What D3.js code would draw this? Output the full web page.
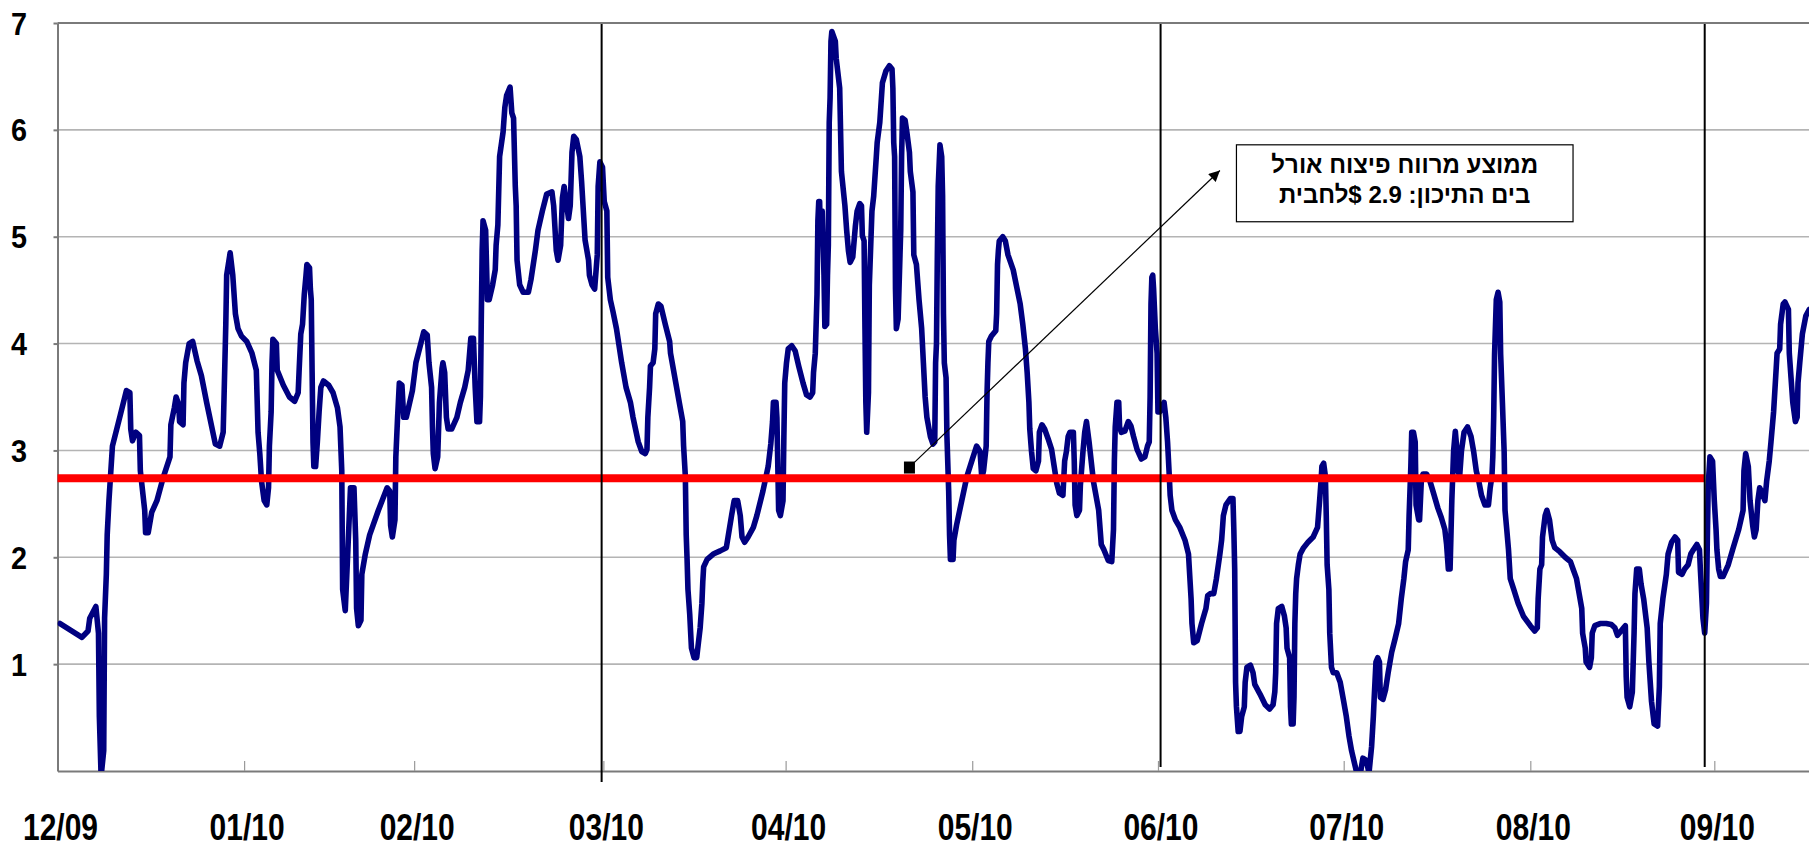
<!DOCTYPE html>
<html lang="he">
<head>
<meta charset="UTF-8">
<title>Crack spread</title>
<script src="https://d3js.org/d3.v7.min.js"></script>
<style>
  body { margin: 0; background: #fff; }
  svg { display: block; font-family: Arial, "Liberation Sans", sans-serif; }
</style>
</head>
<body>
<div id="chart"></div>
<script>
// month labels and where each month starts, in trading days from the first point
const monthLabels = ["12/09", "01/10", "02/10", "03/10", "04/10", "05/10", "06/10", "07/10", "08/10", "09/10"];
const monthPos = [0, 21.4, 40.9, 62.6, 83.5, 104.9, 126.2, 147.5, 168.9, 190.0];
const quarterLines = [62.4, 126.5, 188.9];
const yTicks = [1, 2, 3, 4, 5, 6, 7];

const averageSpread = 2.74;
const averageEnd = 188.9;
const noteLines = ["ממוצע מרווח פיצוח אורל", "בים התיכון: 2.9 $לחבית"];

// crack spread, $/bbl
const days = [
  0.3, 2.8, 3.5, 3.7, 4.4, 4.7, 4.8, 5.0, 5.3, 5.4, 5.6, 5.7, 5.9, 6.3, 7.2, 7.9, 8.3, 8.4, 8.6, 9.0,
  9.4, 9.5, 10.0, 10.1, 10.4, 10.8, 11.4, 12.1, 12.9, 13.0, 13.4, 13.6, 13.9, 14.0, 14.4, 14.5, 14.7, 15.1, 15.5, 16.0,
  16.5, 17.1, 18.1, 18.6, 19.0, 19.1, 19.3, 19.4, 19.8, 20.1, 20.4, 20.7, 21.1, 21.7, 22.3, 22.8, 23.0, 23.2, 23.4, 23.7,
  24.0, 24.2, 24.3, 24.5, 24.6, 24.7, 25.1, 25.2, 25.9, 26.6, 27.2, 27.6, 27.7, 27.9, 28.1, 28.3, 28.5, 28.6, 28.9, 29.0,
  29.1, 29.2, 29.3, 29.4, 29.6, 29.8, 30.0, 30.2, 30.5, 31.1, 31.6, 32.1, 32.4, 32.6, 32.7, 33.0, 33.3, 33.6, 34.0, 34.2,
  34.3, 34.5, 34.8, 34.9, 35.3, 35.8, 36.8, 37.8, 38.1, 38.2, 38.4, 38.7, 38.8, 39.0, 39.2, 39.5, 39.7, 40.0, 40.7, 41.1,
  41.6, 42.0, 42.4, 42.6, 42.9, 43.0, 43.1, 43.3, 43.6, 43.8, 44.1, 44.2, 44.4, 44.6, 44.8, 45.2, 45.8, 46.2, 46.7, 47.1,
  47.4, 47.7, 47.9, 48.1, 48.4, 48.5, 48.6, 48.7, 48.8, 49.1, 49.3, 49.5, 49.9, 50.2, 50.3, 50.5, 50.7, 51.1, 51.3, 51.5,
  51.9, 52.1, 52.3, 52.5, 52.6, 52.7, 53.0, 53.4, 54.0, 54.3, 54.8, 55.1, 55.6, 56.1, 56.7, 56.9, 57.2, 57.4, 57.7, 57.9,
  58.1, 58.4, 58.6, 58.8, 59.0, 59.2, 59.5, 59.9, 60.1, 60.5, 60.9, 61.0, 61.3, 61.6, 61.9, 62.0, 62.2, 62.5, 62.7, 63.0,
  63.1, 63.4, 63.7, 64.1, 64.7, 65.2, 65.7, 66.0, 66.6, 67.0, 67.4, 67.6, 67.7, 67.9, 68.0, 68.3, 68.5, 68.6, 68.9, 69.2,
  69.7, 70.2, 70.3, 70.8, 71.3, 71.7, 71.8, 72.0, 72.1, 72.2, 72.3, 72.5, 72.7, 73.0, 73.3, 73.5, 73.7, 73.9, 74.0, 74.1,
  74.5, 75.2, 76.0, 76.7, 76.9, 77.3, 77.6, 78.0, 78.3, 78.5, 78.8, 79.2, 79.8, 80.2, 80.9, 81.5, 81.8, 82.0, 82.1, 82.4,
  82.5, 82.7, 82.9, 83.2, 83.3, 83.4, 83.6, 83.8, 84.2, 84.6, 85.0, 85.5, 85.9, 86.3, 86.6, 86.7, 86.9, 87.0, 87.1, 87.2,
  87.3, 87.4, 87.5, 87.7, 87.9, 88.0, 88.2, 88.3, 88.4, 88.5, 88.6, 88.7, 88.8, 89.2, 89.3, 89.7, 89.9, 90.3, 90.5, 90.7,
  90.9, 91.2, 91.5, 91.7, 92.0, 92.2, 92.3, 92.5, 92.6, 92.7, 92.8, 93.0, 93.1, 93.3, 93.4, 93.6, 93.9, 94.0, 94.3, 94.6,
  95.0, 95.4, 95.7, 95.8, 95.9, 96.0, 96.1, 96.2, 96.4, 96.7, 96.8, 96.9, 97.2, 97.4, 97.7, 97.8, 98.1, 98.2, 98.5, 98.8,
  99.1, 99.3, 99.5, 99.7, 100.1, 100.4, 100.6, 100.7, 100.8, 100.9, 101.0, 101.2, 101.4, 101.5, 101.6, 101.7, 101.9, 102.0, 102.2, 102.3,
  102.4, 102.7, 102.8, 103.1, 103.7, 104.3, 105.0, 105.4, 105.8, 106.0, 106.2, 106.5, 106.6, 106.7, 106.8, 107.1, 107.6, 107.7, 107.8, 107.9,
  108.0, 108.4, 108.7, 109.0, 109.6, 110.0, 110.4, 110.7, 111.0, 111.2, 111.4, 111.5, 111.7, 111.9, 112.2, 112.5, 112.6, 112.9, 113.2, 113.6,
  114.0, 114.3, 114.6, 114.9, 115.3, 115.5, 115.7, 115.9, 116.1, 116.5, 116.6, 116.7, 116.9, 117.2, 117.3, 117.6, 117.8, 118.0, 118.3, 118.8,
  119.4, 119.7, 120.0, 120.5, 120.9, 121.1, 121.2, 121.3, 121.5, 121.7, 121.8, 122.0, 122.4, 122.8, 123.1, 123.4, 123.8, 124.3, 124.7, 125.0,
  125.2, 125.3, 125.4, 125.5, 125.6, 125.7, 125.9, 126.1, 126.2, 126.4, 126.6, 126.9, 127.1, 127.3, 127.5, 127.6, 127.8, 128.2, 128.7, 129.3,
  129.7, 130.0, 130.1, 130.3, 130.7, 131.2, 131.7, 131.9, 132.2, 132.6, 132.9, 133.3, 133.5, 133.7, 134.0, 134.5, 134.8, 134.9, 135.0, 135.1,
  135.2, 135.4, 135.6, 135.8, 136.1, 136.2, 136.4, 136.8, 137.1, 137.3, 137.9, 138.5, 139.0, 139.4, 139.6, 139.7, 139.8, 140.0, 140.4, 140.7,
  140.9, 141.0, 141.3, 141.4, 141.5, 141.7, 141.8, 141.9, 142.0, 142.1, 142.3, 142.5, 142.9, 143.4, 144.0, 144.5, 144.7, 144.9, 145.0, 145.2,
  145.4, 145.5, 145.6, 145.8, 145.9, 146.1, 146.3, 146.7, 147.1, 147.5, 147.8, 148.1, 148.4, 148.8, 149.1, 149.4, 149.7, 150.1, 150.4, 150.7,
  150.9, 151.0, 151.2, 151.4, 151.6, 151.7, 152.0, 152.3, 152.6, 153.0, 153.4, 153.8, 154.1, 154.4, 154.6, 154.9, 155.0, 155.2, 155.3, 155.5,
  155.7, 155.8, 156.1, 156.2, 156.4, 156.6, 157.0, 157.4, 157.8, 158.3, 158.7, 159.1, 159.3, 159.5, 159.7, 159.9, 160.1, 160.3, 160.5, 160.6,
  160.8, 161.0, 161.3, 161.7, 162.1, 162.4, 162.7, 163.0, 163.3, 163.7, 164.1, 164.3, 164.5, 164.6, 164.7, 164.8, 165.0, 165.2, 165.4, 165.5,
  165.7, 165.9, 166.0, 166.2, 166.4, 166.6, 167.0, 167.5, 168.1, 168.9, 169.4, 169.7, 169.8, 170.0, 170.2, 170.3, 170.6, 170.8, 171.1, 171.4,
  171.7, 172.3, 172.9, 173.5, 173.8, 174.2, 174.5, 174.8, 174.9, 175.2, 175.3, 175.7, 175.9, 176.0, 176.3, 176.9, 177.6, 178.2, 178.6, 178.9,
  179.3, 179.6, 179.8, 179.9, 180.0, 180.3, 180.6, 180.8, 180.9, 181.1, 181.4, 181.6, 181.9, 182.3, 182.5, 182.8, 183.1, 183.5, 183.7, 183.8,
  184.1, 184.5, 184.7, 185.1, 185.5, 185.8, 185.9, 186.3, 186.6, 187.0, 187.3, 187.6, 188.0, 188.3, 188.4, 188.7, 188.9, 189.1, 189.2, 189.3,
  189.5, 189.8, 190.0, 190.2, 190.3, 190.5, 190.7, 191.0, 191.6, 192.1, 192.8, 193.3, 193.4, 193.6, 193.9, 194.1, 194.4, 194.6, 194.8, 195.0,
  195.2, 195.5, 195.8, 196.0, 196.3, 196.5, 196.8, 197.1, 197.2, 197.5, 197.6, 197.9, 198.1, 198.5, 198.6, 198.8, 199.0, 199.3, 199.5, 199.6,
  199.8, 200.1, 200.5, 200.9
];
const spread = [
  1.38, 1.25, 1.31, 1.43, 1.54, 1.29, 0.51, -0.05, 0.19, 1.43, 1.84, 2.21, 2.53, 3.04, 3.33, 3.56, 3.54, 3.20, 3.09, 3.17,
  3.14, 2.81, 2.44, 2.23, 2.23, 2.42, 2.53, 2.74, 2.94, 3.24, 3.40, 3.50, 3.43, 3.27, 3.24, 3.63, 3.82, 4.00, 4.02, 3.84,
  3.70, 3.45, 3.06, 3.04, 3.17, 3.50, 4.18, 4.64, 4.85, 4.64, 4.28, 4.14, 4.07, 4.02, 3.91, 3.75, 3.17, 2.97, 2.71, 2.53,
  2.49, 2.65, 3.04, 3.36, 3.82, 4.04, 4.00, 3.75, 3.61, 3.50, 3.46, 3.54, 3.73, 4.09, 4.18, 4.46, 4.64, 4.74, 4.71, 4.51,
  4.41, 3.73, 3.08, 2.85, 2.85, 3.08, 3.36, 3.59, 3.65, 3.61, 3.54, 3.40, 3.22, 2.81, 1.70, 1.50, 2.07, 2.65, 2.65, 2.16,
  1.52, 1.36, 1.41, 1.84, 2.03, 2.21, 2.44, 2.65, 2.62, 2.30, 2.19, 2.35, 2.94, 3.31, 3.63, 3.61, 3.31, 3.31, 3.56, 3.82,
  3.98, 4.11, 4.08, 3.82, 3.59, 3.22, 2.97, 2.83, 2.94, 3.45, 3.77, 3.82, 3.73, 3.31, 3.20, 3.20, 3.31, 3.45, 3.59, 3.75,
  4.05, 4.05, 3.59, 3.27, 3.27, 3.50, 4.23, 4.87, 5.15, 5.06, 4.41, 4.41, 4.55, 4.69, 4.92, 5.11, 5.75, 5.98, 6.21, 6.32,
  6.40, 6.16, 6.11, 5.47, 5.29, 4.78, 4.55, 4.48, 4.48, 4.60, 4.87, 5.06, 5.24, 5.40, 5.42, 5.29, 4.87, 4.78, 4.92, 5.36,
  5.47, 5.29, 5.17, 5.29, 5.79, 5.94, 5.91, 5.75, 5.52, 4.97, 4.78, 4.64, 4.55, 4.51, 4.83, 5.47, 5.70, 5.65, 5.33, 5.24,
  4.62, 4.41, 4.30, 4.14, 3.82, 3.59, 3.45, 3.31, 3.08, 2.99, 2.97, 3.01, 3.31, 3.59, 3.79, 3.82, 3.95, 4.28, 4.37, 4.35,
  4.18, 4.02, 3.91, 3.68, 3.45, 3.27, 3.04, 2.76, 2.21, 1.98, 1.70, 1.47, 1.15, 1.06, 1.06, 1.20, 1.34, 1.57, 1.77, 1.91,
  1.98, 2.03, 2.06, 2.09, 2.19, 2.39, 2.53, 2.53, 2.39, 2.19, 2.14, 2.19, 2.28, 2.39, 2.62, 2.85, 3.06, 3.27, 3.45, 3.45,
  3.31, 2.44, 2.39, 2.53, 3.13, 3.63, 3.82, 3.95, 3.98, 3.93, 3.79, 3.63, 3.52, 3.50, 3.54, 3.73, 3.91, 4.18, 4.46, 5.15,
  5.33, 5.33, 4.96, 5.24, 4.64, 4.16, 4.18, 4.64, 4.92, 6.07, 6.30, 6.83, 6.92, 6.83, 6.67, 6.39, 5.61, 5.29, 5.06, 4.87,
  4.76, 4.81, 5.10, 5.24, 5.31, 5.29, 5.01, 4.96, 4.14, 3.45, 3.17, 3.54, 4.55, 5.01, 5.24, 5.38, 5.75, 5.88, 6.07, 6.44,
  6.55, 6.60, 6.57, 6.39, 5.88, 5.75, 4.51, 4.14, 4.23, 5.06, 5.75, 6.11, 6.09, 5.98, 5.79, 5.61, 5.42, 4.83, 4.74, 4.41,
  4.14, 3.82, 3.50, 3.31, 3.13, 3.06, 3.08, 3.82, 4.00, 4.83, 5.47, 5.86, 5.75, 5.38, 4.28, 3.82, 3.68, 3.13, 2.62, 2.21,
  1.98, 1.98, 2.16, 2.30, 2.53, 2.76, 2.94, 3.04, 2.99, 2.74, 2.81, 3.04, 3.54, 3.82, 4.02, 4.07, 4.12, 4.28, 4.74, 4.87,
  4.96, 5.00, 4.96, 4.83, 4.69, 4.53, 4.37, 4.18, 3.95, 3.73, 3.45, 3.20, 2.99, 2.83, 2.81, 2.90, 3.17, 3.24, 3.20, 3.11,
  3.01, 2.85, 2.69, 2.60, 2.58, 2.90, 2.99, 3.13, 3.17, 3.17, 2.90, 2.49, 2.39, 2.44, 2.67, 2.99, 3.17, 3.27, 3.08, 2.71,
  2.44, 2.12, 2.07, 1.97, 1.96, 2.26, 2.90, 3.22, 3.45, 3.45, 3.22, 3.17, 3.18, 3.27, 3.23, 3.13, 3.01, 2.92, 2.94, 3.04,
  3.08, 3.50, 4.37, 4.62, 4.64, 4.51, 4.14, 3.91, 3.36, 3.36, 3.41, 3.45, 3.31, 3.08, 2.76, 2.58, 2.44, 2.35, 2.28, 2.16,
  2.03, 1.61, 1.38, 1.20, 1.22, 1.38, 1.52, 1.64, 1.66, 1.66, 1.80, 2.03, 2.16, 2.39, 2.49, 2.55, 2.55, 2.26, 1.89, 0.83,
  0.60, 0.37, 0.37, 0.51, 0.60, 0.83, 0.97, 0.99, 0.92, 0.81, 0.72, 0.62, 0.58, 0.62, 0.74, 0.92, 1.38, 1.52, 1.54, 1.45,
  1.34, 1.15, 1.06, 0.60, 0.44, 0.44, 0.69, 1.38, 1.66, 1.80, 1.93, 2.03, 2.09, 2.14, 2.19, 2.28, 2.49, 2.71, 2.85, 2.88,
  2.76, 2.39, 1.93, 1.70, 1.29, 0.97, 0.92, 0.92, 0.83, 0.65, 0.51, 0.33, 0.19, 0.05, -0.05, -0.03, 0.12, 0.10, -0.02, 0.23,
  0.51, 0.69, 1.02, 1.06, 1.02, 0.69, 0.67, 0.76, 0.92, 1.11, 1.24, 1.38, 1.61, 1.80, 1.96, 2.07, 2.39, 2.85, 3.17, 3.17,
  3.08, 2.49, 2.35, 2.35, 2.71, 2.78, 2.78, 2.71, 2.60, 2.46, 2.37, 2.26, 2.12, 1.89, 1.89, 2.53, 2.99, 3.18, 2.99, 2.81,
  2.76, 2.99, 3.17, 3.22, 3.13, 2.99, 2.81, 2.71, 2.58, 2.49, 2.49, 2.65, 2.76, 2.94, 3.31, 3.90, 4.41, 4.48, 4.39, 3.90,
  3.45, 2.99, 2.44, 2.26, 2.07, 1.80, 1.70, 1.57, 1.45, 1.36, 1.31, 1.34, 1.61, 1.89, 1.93, 2.19, 2.39, 2.44, 2.35, 2.16,
  2.09, 2.05, 2.00, 1.96, 1.89, 1.80, 1.66, 1.52, 1.29, 1.15, 1.02, 0.97, 1.06, 1.29, 1.36, 1.38, 1.38, 1.37, 1.34, 1.27,
  1.31, 1.34, 1.36, 0.88, 0.69, 0.60, 0.74, 1.29, 1.66, 1.89, 1.89, 1.75, 1.61, 1.34, 1.02, 0.65, 0.44, 0.42, 0.79, 1.38,
  1.61, 1.84, 2.03, 2.14, 2.19, 2.16, 1.86, 1.84, 1.89, 1.93, 2.03, 2.07, 2.12, 2.07, 1.89, 1.43, 1.29, 1.57, 2.16, 2.67,
  2.94, 2.90, 2.53, 2.26, 2.07, 1.89, 1.82, 1.82, 1.93, 2.07, 2.26, 2.44, 2.81, 2.97, 2.85, 2.53, 2.30, 2.19, 2.26, 2.53,
  2.65, 2.60, 2.53, 2.71, 2.90, 3.08, 3.36, 3.77, 3.91, 3.95, 4.18, 4.37, 4.39, 4.32, 3.91, 3.68, 3.45, 3.27, 3.31, 3.63,
  3.82, 4.09, 4.26, 4.32
];

const width = 1809, height = 847;
const plotLeft = 57.5, plotTop = 23, plotBottom = 771;

const svg = d3.select("#chart").append("svg")
    .attr("width", width)
    .attr("height", height);

const x = d3.scaleLinear().domain([0, 201]).range([plotLeft, plotLeft + 201 * 8.72]);
const y = d3.scaleLinear().domain([0, 7]).range([plotBottom, plotTop]);

// horizontal gridlines
svg.append("g")
    .selectAll("line")
    .data(yTicks.slice(0, -1))
    .join("line")
    .attr("x1", plotLeft).attr("x2", width)
    .attr("y1", d => y(d)).attr("y2", d => y(d))
    .attr("stroke", "#b4b4b4")
    .attr("stroke-width", 1.6);

// top border
svg.append("line")
    .attr("x1", plotLeft).attr("x2", width)
    .attr("y1", y(7)).attr("y2", y(7))
    .attr("stroke", "#7a7a7a")
    .attr("stroke-width", 2);

// y axis
const yAxis = svg.append("g")
    .attr("transform", `translate(${plotLeft},0)`)
    .call(d3.axisLeft(y).tickValues(yTicks).tickSize(4).tickSizeOuter(0).tickFormat(""));
yAxis.selectAll("path, line").attr("stroke", "#7a7a7a").attr("stroke-width", 2);

svg.append("g")
    .selectAll("text")
    .data(yTicks)
    .join("text")
    .attr("transform", d => `translate(27,${y(d) + 11.5}) scale(0.9,1)`)
    .attr("text-anchor", "end")
    .attr("font-size", 32)
    .attr("font-weight", "bold")
    .attr("fill", "#000")
    .text(d => d);

// x axis, ticks pointing up into the plot
const xAxis = svg.append("g")
    .attr("transform", `translate(0,${plotBottom})`)
    .call(d3.axisBottom(x).tickValues(monthPos.slice(1)).tickSizeInner(-10).tickSizeOuter(0).tickFormat(""));
xAxis.select(".domain").attr("stroke", "#7a7a7a").attr("stroke-width", 2);
xAxis.selectAll(".tick line").attr("stroke", "#9a9a9a").attr("stroke-width", 1.2);

svg.append("g")
    .selectAll("text")
    .data(monthLabels)
    .join("text")
    .attr("transform", (d, i) => `translate(${x(monthPos[i]) + 3},840) scale(0.8,1)`)
    .attr("text-anchor", "middle")
    .attr("font-size", 37.5)
    .attr("font-weight", "bold")
    .attr("fill", "#000")
    .text(d => d);

// the series
svg.append("clipPath").attr("id", "plot-clip")
    .append("rect")
    .attr("x", plotLeft).attr("y", plotTop)
    .attr("width", width - plotLeft).attr("height", plotBottom - plotTop);

const line = d3.line()
    .x((d, i) => x(days[i]))
    .y(d => y(d));

svg.append("path")
    .datum(spread)
    .attr("clip-path", "url(#plot-clip)")
    .attr("fill", "none")
    .attr("stroke", "#000080")
    .attr("stroke-width", 5.6)
    .attr("stroke-linejoin", "round")
    .attr("stroke-linecap", "round")
    .attr("d", line);

// average line
svg.append("line")
    .attr("x1", x(0)).attr("x2", x(averageEnd))
    .attr("y1", y(averageSpread)).attr("y2", y(averageSpread))
    .attr("stroke", "#ff0000")
    .attr("stroke-width", 8);

// quarter separators
svg.append("g")
    .selectAll("line")
    .data(quarterLines)
    .join("line")
    .attr("x1", d => x(d)).attr("x2", d => x(d))
    .attr("y1", plotTop + 1)
    .attr("y2", (d, i) => i === 0 ? plotBottom + 11 : plotBottom - 4)
    .attr("stroke", "#000")
    .attr("stroke-width", 2);

// annotation
svg.append("defs").append("marker")
    .attr("id", "arrow")
    .attr("viewBox", "0 0 10 10")
    .attr("refX", 10).attr("refY", 5)
    .attr("markerUnits", "userSpaceOnUse")
    .attr("markerWidth", 16).attr("markerHeight", 11)
    .attr("orient", "auto")
    .append("path")
    .attr("d", "M0,0L10,5L0,10z")
    .attr("fill", "#000");

svg.append("rect")
    .attr("x", x(97.7) - 5.5).attr("y", y(2.84) - 6)
    .attr("width", 11).attr("height", 12)
    .attr("fill", "#000");

svg.append("line")
    .attr("x1", x(98.3)).attr("y1", y(2.89))
    .attr("x2", x(133.3)).attr("y2", y(5.62))
    .attr("stroke", "#000")
    .attr("stroke-width", 1.2)
    .attr("marker-end", "url(#arrow)");

const boxL = x(135.2), boxR = x(173.8), boxT = y(5.86), boxB = y(5.14);
svg.append("rect")
    .attr("x", boxL).attr("y", boxT)
    .attr("width", boxR - boxL).attr("height", boxB - boxT)
    .attr("fill", "#fff")
    .attr("stroke", "#000")
    .attr("stroke-width", 1.2);

svg.append("g")
    .selectAll("text")
    .data(noteLines)
    .join("text")
    .attr("x", (boxL + boxR) / 2)
    .attr("y", (d, i) => boxT + 28.5 + i * 30)
    .attr("direction", "rtl")
    .attr("text-anchor", "middle")
    .attr("font-size", 24)
    .attr("font-weight", "bold")
    .attr("fill", "#000")
    .text(d => d);
</script>
</body>
</html>
